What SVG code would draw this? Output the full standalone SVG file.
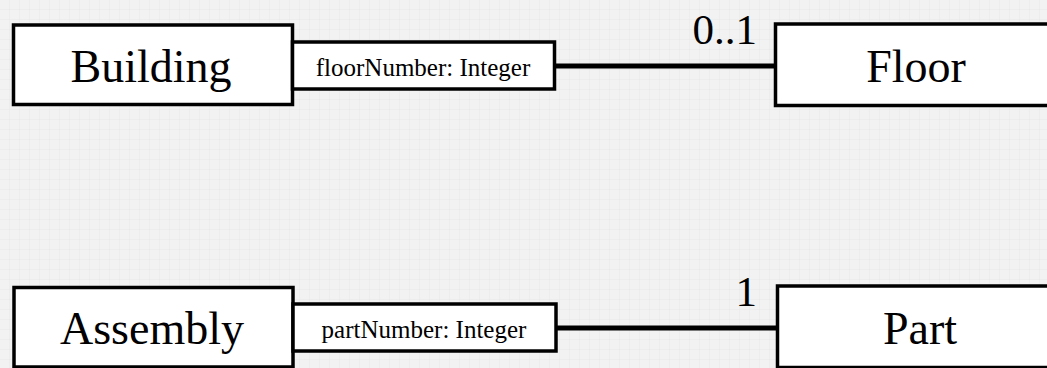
<svg xmlns="http://www.w3.org/2000/svg" width="1047" height="368" viewBox="0 0 1047 368">
  <defs>
    <pattern id="grid" width="10" height="10" patternUnits="userSpaceOnUse">
      <rect width="10" height="10" fill="#f2f2f2"/>
      <path d="M10 0V10M0 10H10" stroke="#e8e8e8" stroke-width="1" fill="none"/>
    </pattern>
    <style>
      .box { fill: #ffffff; stroke: #000000; stroke-width: 3.5; }
      .conn { stroke: #000000; stroke-width: 5; fill: none; }
      .big { font-family: "Liberation Serif", "Times New Roman", serif; font-size: 46px; fill: #000; }
      .mult { font-family: "Liberation Serif", "Times New Roman", serif; font-size: 43px; fill: #000; }
      .qual { font-family: "Liberation Serif", "Times New Roman", serif; font-size: 25px; fill: #000; }
    </style>
  </defs>
  <rect width="1047" height="368" fill="url(#grid)"/>

  <g id="connectors">
    <line class="conn" x1="554" y1="66" x2="775" y2="66"/>
    <line class="conn" x1="556" y1="328" x2="777" y2="328"/>
  </g>

  <g id="building">
    <rect class="box" x="13.5" y="25" width="279" height="79.5"/>
    <text class="big" x="151" y="82" text-anchor="middle">Building</text>
  </g>
  <g id="building-qualifier">
    <rect class="box" x="292.5" y="42" width="262" height="47"/>
    <text class="qual" x="423" y="76" text-anchor="middle">floorNumber: Integer</text>
  </g>
  <g id="floor">
    <rect class="box" x="775.5" y="24" width="300" height="81.5"/>
    <text class="big" x="916" y="82" text-anchor="middle">Floor</text>
  </g>
  <text class="mult" x="757" y="44" text-anchor="end">0..1</text>

  <g id="assembly">
    <rect class="box" x="14" y="287.5" width="279" height="79.5"/>
    <text class="big" x="152" y="344" text-anchor="middle">Assembly</text>
  </g>
  <g id="assembly-qualifier">
    <rect class="box" x="293" y="304" width="263" height="47"/>
    <text class="qual" x="424" y="338" text-anchor="middle">partNumber: Integer</text>
  </g>
  <g id="part">
    <rect class="box" x="777.5" y="286" width="300" height="81.5"/>
    <text class="big" x="920" y="344" text-anchor="middle">Part</text>
  </g>
  <text class="mult" x="757" y="306" text-anchor="end">1</text>
</svg>
